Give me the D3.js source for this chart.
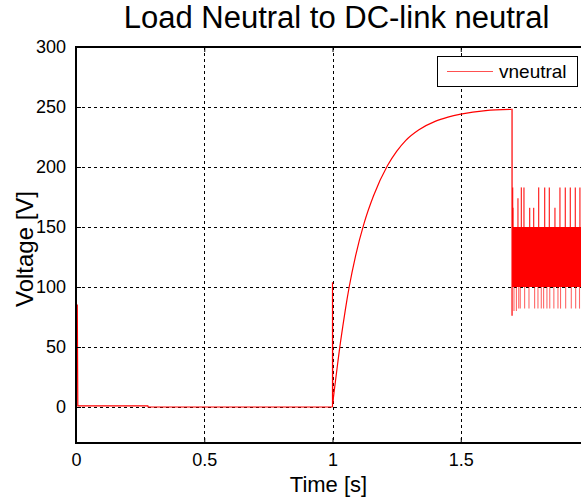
<!DOCTYPE html>
<html lang="en">
  <head>
    <meta charset="utf-8">
    <title>Load Neutral to DC-link neutral</title>
    <script type="text/javascript" src="https://cdn.jsdelivr.net/npm/d3@7"></script>
    <style>
    body { margin: 0; background: #fff; }
    svg { display: block; font-family: "Liberation Sans", Arial, sans-serif; }
    .grid line { stroke: #000; stroke-dasharray: 3,3; stroke-width: 1; }
    .axis path, .axis line { stroke: #000; }
    .axis text { font-size: 18px; fill: #000; }
    </style>
  </head>
  <body>
    <div id="chart"></div>
    <script type="text/javascript">

      // ---- data ----
      var xTicks = [0, 0.5, 1, 1.5, 2];
      var yTicks = [0, 50, 100, 150, 200, 250, 300];

      // start-up transient, t = 0 .. 1 s
      var startT = [0, 0.004, 0.005, 0.007, 0.28, 0.281, 1.0];
      var startV = [0, 85, 85, 1, 1, 0, 0];

      // spike at switch-on, t = 1 s
      var stepT = [1.0, 1.0, 1.001];
      var stepV = [0, 104, 3];

      // charging curve, t = 1 .. 1.7 s
      var riseT = [1.001, 1.0065, 1.01, 1.02, 1.026, 1.04, 1.05, 1.065, 1.09, 1.123, 1.16, 1.214, 1.25, 1.285, 1.337, 1.4, 1.45, 1.5, 1.597, 1.698];
      var riseV = [3, 13, 19, 36, 46, 67, 81, 100, 126, 153, 176, 201, 213, 222, 231, 238, 241.5, 244, 247, 248];

      // drop at t = 1.7 s
      var dropT = [1.698, 1.7, 1.7];
      var dropV = [248, 248, 76];

      // switching band after t = 1.7 s
      var bandT = [1.7, 2.0];
      var bandLow = 100, bandHigh = 150;

      // upward spikes
      var highT = [1.7024, 1.7035, 1.7230, 1.7363, 1.7464, 1.7686, 1.7842, 1.8037, 1.8271, 1.8454, 1.8672, 1.8867, 1.9077, 1.9272, 1.9467, 1.9646, 1.985];
      var highV = [183, 166, 174, 183, 183, 166, 166, 183, 183, 183, 166, 183, 183, 183, 183, 183, 183];

      // downward spikes
      var lowT = [1.7075, 1.717, 1.726, 1.732, 1.749, 1.766, 1.788, 1.801, 1.814, 1.823, 1.836, 1.847, 1.863, 1.879, 1.889, 1.909, 1.931, 1.948, 1.963, 1.982];
      var lowV = [80, 80, 82, 82, 82, 82, 82, 82, 82, 82, 82, 82, 82, 82, 82, 82, 82, 82, 82, 82];

      var W = 581, H = 498;
      var box = {left: 76, right: 589, top: 47, bottom: 443};

      var x = d3.scaleLinear().domain([0, 2]).range([box.left, box.right]);
      var y = d3.scaleLinear().domain([-30, 300]).range([box.bottom, box.top]);

      var svg = d3.select("#chart").append("svg")
          .attr("width", W)
          .attr("height", H);

      svg.append("clipPath").attr("id", "plot-clip")
        .append("rect")
          .attr("x", box.left).attr("y", box.top)
          .attr("width", box.right - box.left).attr("height", box.bottom - box.top);

      // grid
      var grid = svg.append("g").attr("class", "grid");
      grid.selectAll(".gx")
          .data(xTicks.filter(function(d) { return d > 0 && d < 2; }))
          .enter().append("line")
            .attr("x1", function(d) { return Math.round(x(d)) + 0.5; })
            .attr("x2", function(d) { return Math.round(x(d)) + 0.5; })
            .attr("y1", box.top).attr("y2", box.bottom);
      grid.selectAll(".gy")
          .data(yTicks.filter(function(d) { return d < 300; }))
          .enter().append("line")
            .attr("x1", box.left).attr("x2", box.right)
            .attr("y1", function(d) { return Math.round(y(d)) + 0.5; })
            .attr("y2", function(d) { return Math.round(y(d)) + 0.5; });

      // trace
      var plot = svg.append("g").attr("clip-path", "url(#plot-clip)");

      var line = d3.line()
          .x(function(d) { return x(d[0]); })
          .y(function(d) { return y(d[1]); });

      var smooth = d3.line()
          .curve(d3.curveMonotoneX)
          .x(function(d) { return x(d[0]); })
          .y(function(d) { return y(d[1]); });

      plot.append("rect")
          .attr("x", x(bandT[0]))
          .attr("y", y(bandHigh))
          .attr("width", x(bandT[1]) - x(bandT[0]))
          .attr("height", y(bandLow) - y(bandHigh))
          .attr("fill", "#ff0000");

      plot.selectAll(".hi")
          .data(d3.zip(highT, highV))
          .enter().append("line")
            .attr("x1", function(d) { return x(d[0]); })
            .attr("x2", function(d) { return x(d[0]); })
            .attr("y1", y(bandHigh))
            .attr("y2", function(d) { return y(d[1]); })
            .attr("stroke", "#ff0000")
            .attr("stroke-opacity", 0.8)
            .attr("stroke-width", 1.3);

      plot.selectAll(".lo")
          .data(d3.zip(lowT, lowV))
          .enter().append("line")
            .attr("x1", function(d) { return x(d[0]); })
            .attr("x2", function(d) { return x(d[0]); })
            .attr("y1", y(bandLow))
            .attr("y2", function(d) { return y(d[1]); })
            .attr("stroke", "#ff0000")
            .attr("stroke-opacity", 0.6)
            .attr("stroke-width", 1.1);

      [startT, stepT, dropT].forEach(function(ts, i) {
        var vs = [startV, stepV, dropV][i];
        plot.append("path")
            .attr("d", line(d3.zip(ts, vs)))
            .attr("fill", "none")
            .attr("stroke", "#ff0000")
            .attr("stroke-width", 1.2);
      });

      plot.append("path")
          .attr("d", smooth(d3.zip(riseT, riseV)))
          .attr("fill", "none")
          .attr("stroke", "#ff0000")
          .attr("stroke-width", 1.2);

      // axes (ticks inward, box)
      var xAxis = d3.axisBottom(x).tickValues(xTicks).tickSizeInner(-5).tickSizeOuter(0).tickPadding(10)
          .tickFormat(function(d) { return d < 2 ? d : ""; });
      var yAxis = d3.axisLeft(y).tickValues(yTicks).tickSizeInner(-5).tickSizeOuter(0).tickPadding(10);

      svg.append("g")
          .attr("class", "axis")
          .attr("transform", "translate(0," + box.bottom + ")")
          .call(xAxis)
          .call(function(g) { g.select(".domain").remove(); });

      svg.append("g")
          .attr("class", "axis")
          .attr("transform", "translate(" + box.left + ",0)")
          .call(yAxis)
          .call(function(g) { g.select(".domain").remove(); });

      // top ticks
      svg.append("g")
          .attr("class", "axis")
          .attr("transform", "translate(0," + box.top + ")")
          .call(d3.axisTop(x).tickValues(xTicks).tickSizeInner(-5).tickSizeOuter(0).tickFormat(""))
          .call(function(g) { g.select(".domain").remove(); });

      svg.append("rect")
          .attr("x", box.left).attr("y", box.top)
          .attr("width", box.right - box.left).attr("height", box.bottom - box.top)
          .attr("fill", "none")
          .attr("stroke", "#000")
          .attr("stroke-width", 2);

      // legend
      var lg = svg.append("g").attr("transform", "translate(" + (box.right - 152) + "," + (box.top + 9) + ")");
      lg.append("rect")
          .attr("x", 0.5).attr("y", 0.5)
          .attr("width", 140).attr("height", 30)
          .attr("fill", "#fff")
          .attr("stroke", "#000");
      lg.append("line")
          .attr("x1", 10).attr("x2", 56)
          .attr("y1", 15.5).attr("y2", 15.5)
          .attr("stroke", "#ff5050")
          .attr("stroke-width", 1.2);
      lg.append("text")
          .attr("x", 62).attr("y", 22)
          .attr("font-size", 19)
          .text("vneutral");

      // labels
      svg.append("text")
          .attr("x", (box.left + box.right) / 2 + 4)
          .attr("y", 28)
          .attr("text-anchor", "middle")
          .attr("font-size", 31)
          .text("Load Neutral to DC-link neutral");

      svg.append("text")
          .attr("x", (box.left + box.right) / 2 - 4)
          .attr("y", 492)
          .attr("text-anchor", "middle")
          .attr("font-size", 22)
          .text("Time [s]");

      svg.append("text")
          .attr("transform", "translate(33," + ((box.top + box.bottom) / 2 + 4) + ") rotate(-90)")
          .attr("text-anchor", "middle")
          .attr("font-size", 24)
          .text("Voltage [V]");

    </script>
  </body>
</html>
